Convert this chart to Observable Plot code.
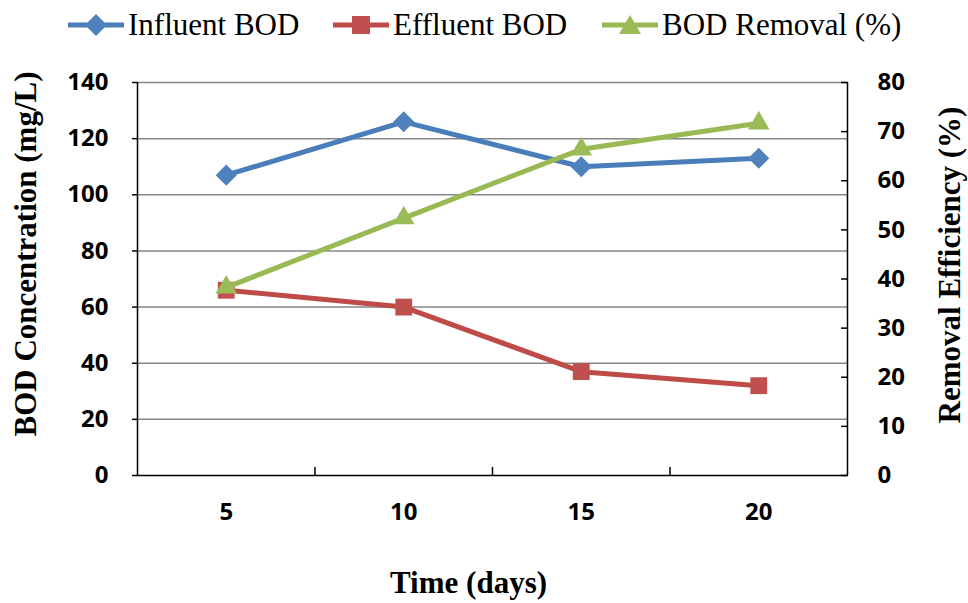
<!DOCTYPE html>
<html><head><meta charset="utf-8">
<script src="https://cdn.jsdelivr.net/npm/d3@7"></script>
<script src="https://cdn.jsdelivr.net/npm/@observablehq/plot@0.6"></script>
<style>
body{margin:0;background:#fff;width:968px;height:603px;overflow:hidden}
#legend{height:50px;position:relative;font-family:"Liberation Serif","Times New Roman",serif;font-size:31px;color:#000}
.item{position:absolute;top:7px;display:flex;align-items:center;line-height:36px;white-space:nowrap}
.item svg{margin-right:4px}
</style></head>
<body>
<div id="legend"></div>
<div id="chart"></div>
<script>
const days = [5, 10, 15, 20];
const influent = [107, 126, 110, 113];
const effluent = [66, 60, 37, 32];
const removal = [38.3, 52.4, 66.4, 71.7];
const leftTicks = [0, 20, 40, 60, 80, 100, 120, 140];
const rightTicks = [0, 10, 20, 30, 40, 50, 60, 70, 80];
const boundaries = [7.5, 12.5, 17.5];
const seriesNames = ["Influent BOD", "Effluent BOD", "BOD Removal (%)"];
const lineColors = ["#4A7EBB", "#BE4B48", "#98B954"];
const markColors = ["#4F81BD", "#C0504D", "#9BBB59"];

const k = 140 / 80;
const rows = days.map((d, i) => ({day: d, influent: influent[i], effluent: effluent[i], removal: removal[i] * k}));

// legend
const legendLeft = [68, 333, 602];
const legend = document.getElementById("legend");
const shapes = [
  c => `<polygon points="28,1 39,12 28,23 17,12" fill="${c}"/>`,
  c => `<rect x="19" y="3" width="18" height="18" fill="${c}"/>`,
  c => `<polygon points="28,2 39,21 17,21" fill="${c}"/>`
];
seriesNames.forEach((name, i) => {
  const div = document.createElement("div");
  div.className = "item";
  div.style.left = legendLeft[i] + "px";
  div.innerHTML = `<svg width="56" height="24"><line x1="0" x2="56" y1="12" y2="12" stroke="${lineColors[i]}" stroke-width="5"/>${shapes[i](markColors[i])}</svg><span>${name}</span>`;
  legend.appendChild(div);
});

const titleFont = {fontFamily: '"Liberation Serif","Times New Roman",serif', fontWeight: "bold", fontSize: 31, fill: "#000", textAnchor: "middle", lineAnchor: "middle"};

const chart = Plot.plot({
  width: 968, height: 553,
  marginTop: 32, marginBottom: 128, marginLeft: 137, marginRight: 121,
  x: {type: "linear", domain: [2.5, 22.5]},
  y: {domain: [0, 140]},
  style: {fontFamily: '"Noto Sans", sans-serif', fontSize: "24px", fontWeight: "bold", color: "#000", background: "#fff", overflow: "visible"},
  marks: [
    Plot.gridY(leftTicks.slice(1), {stroke: "#868686", strokeOpacity: 1, strokeWidth: 1.5}),
    Plot.ruleY([0], {stroke: "#000", strokeWidth: 1.5}),
    Plot.ruleX([2.5], {stroke: "#000", strokeWidth: 1.5}),
    Plot.ruleX([22.5], {stroke: "#000", strokeWidth: 1.5}),
    Plot.axisY(leftTicks, {anchor: "left", tickSize: 5, tickPadding: 24, label: null, strokeWidth: 1.5}),
    Plot.axisY(rightTicks.map(v => v * k), {anchor: "right", tickSize: -7, tickFormat: () => "", label: null, strokeWidth: 1.5}),
    Plot.axisY(rightTicks.map(v => v * k), {anchor: "right", tickSize: 0, tickPadding: 30, tickFormat: v => Math.round(v / k), label: null}),
    Plot.axisX(days, {anchor: "bottom", tickSize: 0, tickPadding: 27, label: null}),
    Plot.axisX(boundaries, {anchor: "bottom", tickSize: -8, tickFormat: () => "", label: null, strokeWidth: 1.5}),
    Plot.line(rows, {x: "day", y: "influent", stroke: lineColors[0], strokeWidth: 5}),
    Plot.dot(rows, {x: "day", y: "influent", symbol: "diamond2", r: 9.5, fill: markColors[0]}),
    Plot.line(rows, {x: "day", y: "effluent", stroke: lineColors[1], strokeWidth: 5}),
    Plot.dot(rows, {x: "day", y: "effluent", symbol: "square", r: 9.5, fill: markColors[1]}),
    Plot.line(rows, {x: "day", y: "removal", stroke: lineColors[2], strokeWidth: 5}),
    Plot.dot(rows, {x: "day", y: "removal", symbol: "triangle", r: 8, fill: markColors[2]}),
    Plot.text(["BOD Concentration (mg/L)"], {text: d => d, frameAnchor: "left", rotate: -90, dx: -111, dy: -25, ...titleFont}),
    Plot.text(["Removal Efficiency (%)"], {text: d => d, frameAnchor: "right", rotate: -90, dx: 103, dy: -14, ...titleFont}),
    Plot.text(["Time (days)"], {text: d => d, frameAnchor: "bottom", dx: -24, dy: 108, ...titleFont})
  ]
});
document.getElementById("chart").appendChild(chart);
</script>
</body></html>
